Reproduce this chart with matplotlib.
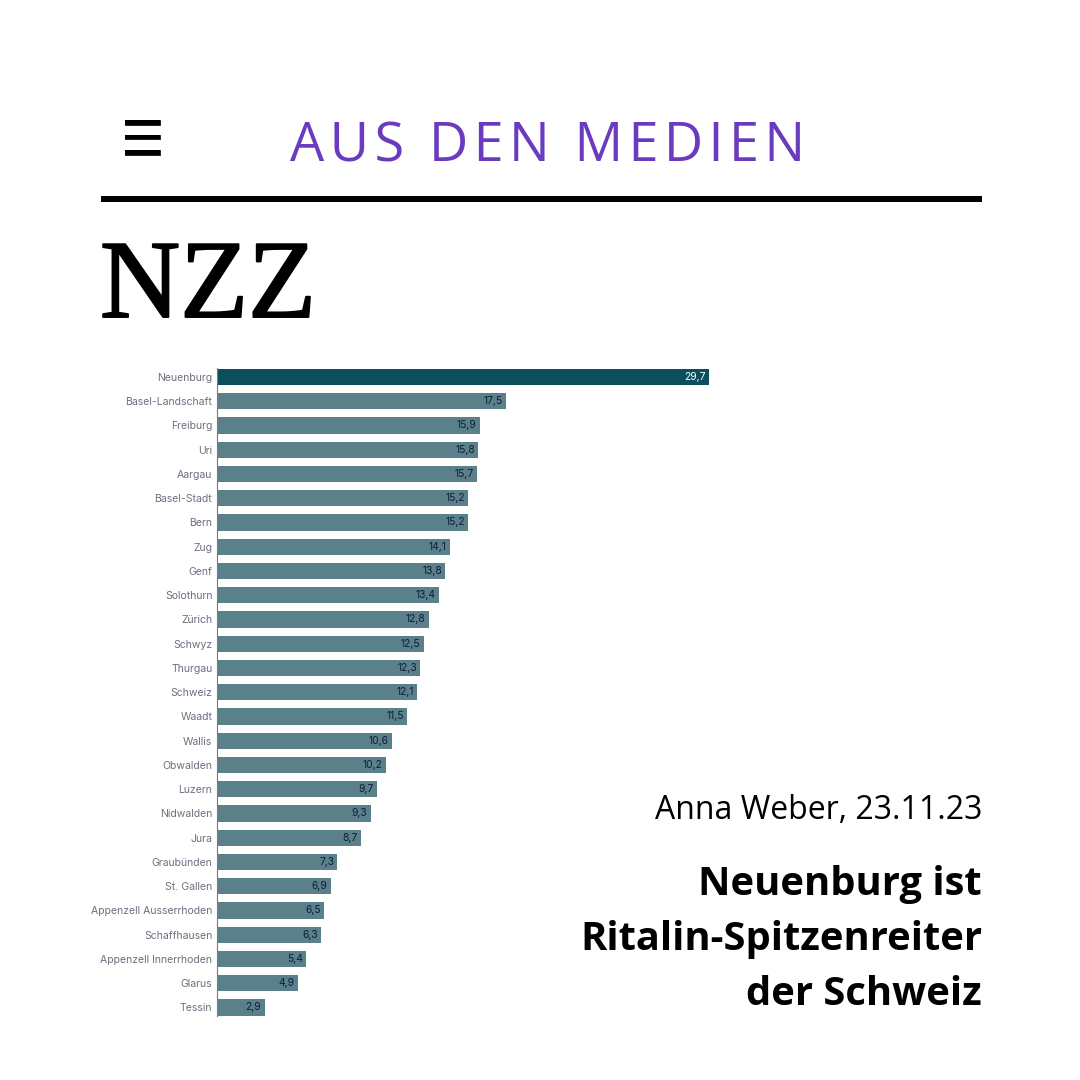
import matplotlib
matplotlib.use("Agg")
import matplotlib.pyplot as plt
import matplotlib.patheffects as pe
from matplotlib.patches import Rectangle

cantons = ["Neuenburg", "Basel-Landschaft", "Freiburg", "Uri", "Aargau", "Basel-Stadt", "Bern", "Zug", "Genf",
           "Solothurn", "Zürich", "Schwyz", "Thurgau", "Schweiz", "Waadt", "Wallis", "Obwalden", "Luzern",
           "Nidwalden", "Jura", "Graubünden", "St. Gallen", "Appenzell Ausserrhoden", "Schaffhausen",
           "Appenzell Innerrhoden", "Glarus", "Tessin"]
values = [29.7, 17.5, 15.9, 15.8, 15.7, 15.2, 15.2, 14.1, 13.8, 13.4, 12.8, 12.5, 12.3, 12.1, 11.5, 10.6, 10.2,
          9.7, 9.3, 8.7, 7.3, 6.9, 6.5, 6.3, 5.4, 4.9, 2.9]
header = "AUS DEN MEDIEN"
source = "NZZ"
byline = "Anna Weber, 23.11.23"
headline = ["Neuenburg ist", "Ritalin-Spitzenreiter", "der Schweiz"]

W = 1080
px_per_unit = 16.57
row = 24.25


def fx(x):
    return x / W


def fy(y):
    return 1 - y / W


fig = plt.figure(figsize=(10.8, 10.8), dpi=100, facecolor="white")

# chart, axes placed on the picture's pixels
left, right, top, bottom = 216.5, 760, 368.5, 1016.5
ax = fig.add_axes([fx(left), fy(bottom), (right - left) / W, (bottom - top) / W])
ax.set_xlim(0, (right - left) / px_per_unit)
ax.set_ylim((bottom - 377) / row, (top - 377) / row)
colors = ["#0b4f5c" if i == 0 else "#5a808a" for i in range(len(values))]
ax.barh(range(len(values)), values, height=0.66, color=colors)
ax.set_yticks(range(len(cantons)))
ax.set_yticklabels(cantons, fontsize=7.55, family="Inter", color="#6f6f80")
ax.tick_params(axis="y", length=0, pad=3)
ax.set_xticks([])
for s in ["top", "right", "bottom"]:
    ax.spines[s].set_visible(False)
ax.spines["left"].set_color("#6f7f88")
ax.spines["left"].set_linewidth(0.8)
ax.patch.set_alpha(0)
for i, v in enumerate(values):
    ax.text(v - 0.2, i, f"{v:.1f}".replace(".", ","), ha="right", va="center", fontsize=7.4, family="Inter",
            color="white" if i == 0 else "#0f1b3d")

# header
fig.text(fx(142.5), fy(142), "\u2630", ha="center", va="center", fontsize=34, family="DejaVu Sans", color="black",
         path_effects=[pe.withStroke(linewidth=0.5, foreground="black")])
fig.text(fx(548), fy(161), "\u200a".join(header), ha="center", va="baseline", fontsize=39,
         family=["Open Sans", "DejaVu Sans"], color="#6a3bbf")
fig.add_artist(Rectangle((fx(100.5), fy(202)), 881.5 / W, 6 / W, transform=fig.transFigure, color="black", lw=0))
fig.text(fx(100), fy(317), source, ha="left", va="baseline", fontsize=80, family="Liberation Serif",
         color="black", path_effects=[pe.withStroke(linewidth=1.4, foreground="black")])

# right text block
fig.text(fx(982), fy(819), byline, ha="right", va="baseline", fontsize=23, family="Open Sans", color="black")
for y, line in zip([895, 950, 1005], headline):
    fig.text(fx(982), fy(y), line, ha="right", va="baseline", fontsize=28.7, family="Open Sans", weight="bold",
             color="black")

fig.savefig("out.png", dpi=100)
